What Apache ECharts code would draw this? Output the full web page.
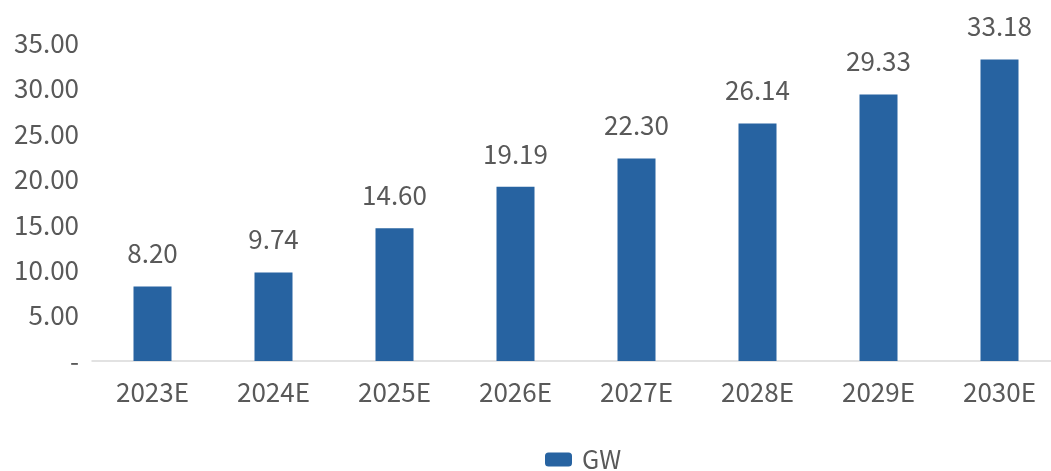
<!DOCTYPE html>
<html>
<head>
    <meta charset="UTF-8">
    <title>GW</title>
    <script type="text/javascript" src="https://cdn.jsdelivr.net/npm/echarts@6/dist/echarts.min.js"></script>
</head>
<body style="margin: 0">
<div id="container" style="width: 1051px; height: 471px"></div>
<script type="text/javascript">
    const years = ['2023E', '2024E', '2025E', '2026E', '2027E', '2028E', '2029E', '2030E'];
    const gw = [8.20, 9.74, 14.60, 19.19, 22.30, 26.14, 29.33, 33.18];

    const font = '"Noto Sans CJK SC", "Noto Sans", sans-serif';
    const myChart = echarts.init(document.getElementById('container'));
    const option = {
        animation: false,
        textStyle: {fontFamily: font},
        // the source image is cropped on the right, so the plot runs past the edge
        grid: {left: 92, top: 43, width: 968, height: 318, outerBoundsMode: 'none'},
        legend: {
            top: 442,
            left: 540,
            itemWidth: 27,
            itemHeight: 14,
            itemGap: 10,
            textStyle: {fontSize: 25, color: '#595959', fontFamily: font, padding: [0, 0, 0, 5]},
            data: ['GW']
        },
        xAxis: {
            type: 'category',
            data: years,
            axisLine: {lineStyle: {color: '#d9d9d9', width: 1.5}},
            axisTick: {show: false},
            axisLabel: {fontSize: 26, color: '#595959', margin: 18, fontFamily: font}
        },
        yAxis: {
            type: 'value',
            min: 0,
            max: 35,
            interval: 5,
            splitLine: {show: false},
            axisLabel: {
                fontSize: 26, color: '#595959', margin: 13, fontFamily: font,
                formatter: v => v === 0 ? '-' : v.toFixed(2)
            }
        },
        series: [{
            name: 'GW',
            type: 'bar',
            barWidth: 38,
            itemStyle: {color: '#2763a1'},
            label: {
                show: true,
                position: 'top',
                distance: 20,
                fontSize: 26,
                color: '#595959',
                fontFamily: font,
                formatter: p => p.value.toFixed(2)
            },
            data: gw
        }]
    };
    myChart.setOption(option);
</script>
</body>
</html>
